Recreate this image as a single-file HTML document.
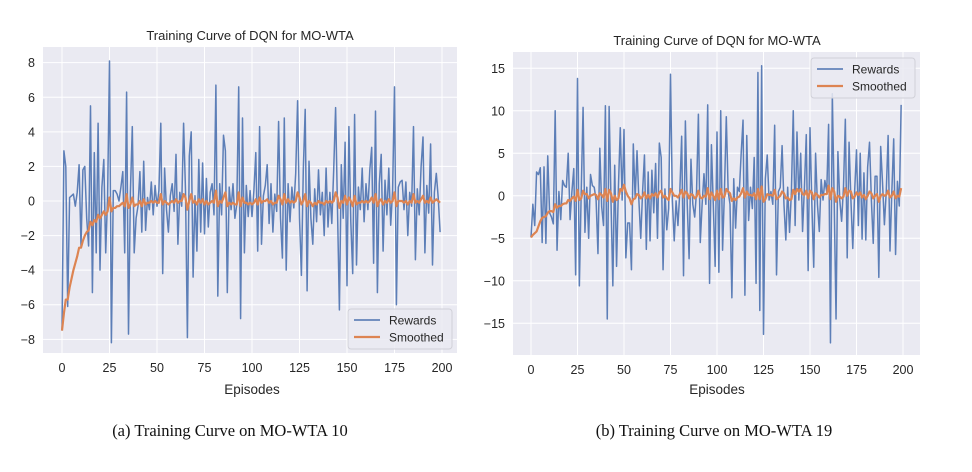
<!DOCTYPE html>
<html><head><meta charset="utf-8"><style>
body{margin:0;background:#fff;}
svg{display:block;font-family:"Liberation Sans",sans-serif;}
</style></head><body>
<svg id="svg" width="972" height="472"></svg>
<script>
const episodes = 200;
const xTicks = [0,25,50,75,100,125,150,175,200];
const yTicksA = [-8,-6,-4,-2,0,2,4,6,8];
const yTicksB = [-15,-10,-5,0,5,10,15];
const rewardsA = [-7.5,2.9,2.0,-6.1,0.2,0.3,0.4,-0.3,0.5,2.1,
-2.6,1.8,2.0,-1.0,-2.6,5.5,-5.3,2.8,-3.0,4.5,
-4.0,0.8,2.4,-3.0,0.3,8.1,-8.2,0.6,0.6,0.4,
0.0,0.8,1.7,-3.0,6.3,-7.7,0.5,4.3,-3.0,-1.0,
-0.3,1.7,-1.8,2.3,-1.7,0.2,-0.5,1.1,-0.8,0.9,
-0.3,0.6,4.5,-4.2,1.9,-0.5,-1.8,0.3,1.0,-0.6,
2.7,-2.5,0.5,-0.3,4.5,0.6,-7.9,2.6,4.0,-4.4,
0.3,-2.9,2.4,-1.8,2.2,-1.9,1.3,-1.5,0.5,1.0,
-0.8,6.7,-5.5,1.0,-0.8,3.8,2.9,-5.3,0.8,-0.5,
1.0,-1.0,-0.2,6.6,-6.8,4.8,-3.0,0.9,-0.9,0.6,
-0.9,0.6,2.8,-2.9,4.3,-2.5,0.3,0.9,2.1,-1.3,
1.0,-1.8,0.4,-0.6,4.6,-1.0,-3.3,4.8,-4.0,1.0,
-1.2,0.8,-0.4,1.6,5.8,-1.0,-4.3,1.8,5.3,-5.2,
2.3,-1.0,-2.5,0.7,-1.2,1.8,-0.8,0.5,-2.0,1.9,
-1.5,0.5,-1.3,1.8,5.4,-0.5,-6.3,2.1,-1.0,3.4,
-4.9,4.3,-1.2,-4.2,5.0,-3.7,0.8,-0.5,1.9,-1.2,
1.0,-0.5,1.8,3.1,-3.6,5.2,-5.3,1.0,2.7,-2.9,
1.2,-0.8,1.9,-1.4,0.6,6.6,-6.0,0.8,1.1,1.2,
-0.5,1.1,-2.0,0.5,-0.3,4.3,-3.4,0.7,-0.8,2.0,
3.7,-3.0,0.9,-0.7,3.3,-3.7,0.5,1.6,0.2,-1.8];
const smoothedA = [-7.5,-6.5,-5.7,-5.7,-5.0,-4.5,-4.0,-3.6,-3.2,-2.7,
-2.7,-2.3,-2.0,-1.8,-1.7,-1.2,-1.4,-1.1,-1.2,-0.8,
-1.0,-0.8,-0.6,-0.8,-0.6,0.2,-0.6,-0.4,-0.4,-0.3,
-0.3,-0.2,-0.1,-0.3,0.4,-0.4,-0.2,0.2,-0.3,-0.2,
-0.2,0.0,-0.3,0.1,-0.2,-0.1,-0.1,0.0,-0.1,0.0,
-0.1,-0.1,0.4,-0.2,0.0,-0.1,-0.2,-0.1,0.0,-0.1,
0.1,-0.1,0.0,0.0,0.4,0.2,-0.5,0.0,0.4,-0.1,
0.0,-0.2,0.1,-0.1,0.1,-0.2,0.0,-0.2,-0.1,0.0,
-0.1,0.6,-0.3,0.0,-0.1,0.2,0.5,-0.3,-0.1,-0.2,
-0.1,-0.2,-0.2,0.5,-0.3,0.2,-0.1,-0.1,-0.2,-0.1,
-0.2,-0.1,0.1,-0.2,0.2,-0.1,0.0,0.0,0.1,-0.1,
0.0,-0.2,-0.1,-0.1,0.3,0.1,-0.2,0.4,-0.1,0.1,
-0.1,0.0,-0.1,0.0,0.5,0.2,-0.2,0.0,0.4,-0.3,
0.0,-0.1,-0.3,-0.1,-0.2,0.0,-0.1,-0.1,-0.2,0.0,
-0.1,0.0,-0.1,0.0,0.5,0.2,-0.4,0.0,-0.1,0.3,
-0.2,0.2,0.0,-0.3,0.3,-0.2,-0.1,-0.1,0.0,-0.1,
0.0,-0.1,0.0,0.2,-0.1,0.4,-0.3,0.0,0.1,-0.2,
0.0,-0.1,0.1,-0.1,0.0,0.5,-0.3,0.0,0.0,0.0,
-0.1,0.0,-0.2,0.0,-0.1,0.4,-0.1,0.0,-0.1,0.1,
0.3,-0.1,0.0,-0.1,0.2,-0.1,0.0,0.1,0.0,-0.1];
const rewardsB = [-4.9,-1.0,-3.5,2.8,2.5,3.3,-5.5,3.4,-5.6,4.7,
-2.0,-2.5,-3.3,10.0,-6.4,0.5,-2.8,1.8,1.2,1.0,
5.0,-2.8,0.5,3.2,-9.3,13.8,-10.6,0.5,10.4,-4.3,
1.0,-5.0,2.5,1.2,1.0,-0.5,-6.8,5.6,-1.3,-3.5,
10.6,-14.5,10.5,-0.5,-10.6,3.6,-8.3,1.0,8.0,-0.5,
7.8,-7.3,-3.2,-3.2,-8.7,6.1,-0.3,5.3,-0.5,-5.0,
0.5,4.8,-6.3,2.8,-5.3,3.0,-2.0,3.8,-5.0,6.2,
4.5,-8.7,0.8,-4.0,-1.5,14.3,-0.5,-5.3,-0.6,-3.5,
0.5,7.0,-9.4,8.8,-1.0,-7.4,4.3,-1.0,-2.5,0.5,
9.6,-5.5,-1.0,2.6,-1.0,10.7,-10.3,6.0,-1.0,-8.3,
7.5,-9.0,10.0,-6.4,0.5,9.3,0.5,-1.0,-12.0,2.0,
-3.8,1.0,0.5,5.0,8.9,-11.7,7.1,-2.9,1.0,-1.5,
4.5,-10.3,14.5,-13.5,15.3,-16.3,2.0,4.8,-0.5,0.5,
-1.0,8.3,-9.3,0.5,1.0,5.9,-1.0,-5.2,1.0,-4.3,
0.5,10.0,-3.5,7.5,-0.5,5.0,-4.2,1.0,7.2,-8.8,
8.0,-1.0,-8.4,5.0,-1.0,-4.2,1.9,-0.5,1.8,0.5,
8.4,-17.3,12.0,-0.5,-14.5,5.2,-0.5,-3.0,1.0,9.0,
-7.3,6.3,-0.5,-6.2,0.5,5.4,-3.5,5.0,-5.1,2.7,
-5.2,3.4,6.3,-0.5,-5.6,2.3,2.3,-9.6,5.8,1.5,
-3.4,0.5,7.1,-6.5,0.5,6.7,-6.9,1.7,-1.2,10.7];
const smoothedB = [-4.9,-4.6,-4.4,-4.2,-3.6,-3.0,-2.6,-2.5,-2.4,-2.0,
-1.8,-1.8,-1.9,-1.0,-1.4,-1.2,-1.2,-1.0,-0.9,-0.9,
-0.5,-0.6,-0.3,-0.1,-0.6,0.7,-0.5,-0.3,0.6,0.2,
0.2,-0.3,0.0,0.1,0.2,0.1,-0.4,0.3,0.1,-0.2,
0.8,-0.6,0.7,0.3,-0.7,0.0,-0.5,-0.3,0.8,0.6,
1.3,0.5,0.0,-0.3,-1.0,-0.4,-0.3,0.2,0.1,-0.3,
-0.1,0.4,-0.3,0.1,-0.3,0.2,0.0,0.3,-0.2,0.4,
0.6,-0.2,0.0,-0.3,-0.5,0.8,0.4,0.0,0.0,-0.2,
0.2,0.7,-0.2,0.5,0.3,-0.3,0.2,0.1,-0.3,-0.1,
0.6,-0.2,-0.3,0.0,-0.1,0.9,-0.4,0.4,0.0,-0.5,
0.6,-0.4,0.8,-0.2,-0.1,0.8,0.5,0.3,-0.6,-0.3,
-0.5,-0.2,-0.1,0.3,0.9,-0.2,0.5,0.1,0.1,0.0,
0.3,-0.4,0.8,-0.4,1.1,-0.7,-0.4,0.2,0.1,0.1,
0.0,0.7,-0.4,-0.2,0.0,0.5,0.3,-0.3,-0.2,-0.5,
-0.4,0.7,0.2,0.8,0.5,0.8,0.2,0.1,0.6,-0.3,
0.6,0.4,-0.4,0.3,0.1,-0.2,0.1,0.1,0.2,0.2,
1.2,-0.4,0.9,0.5,-0.7,0.0,-0.1,-0.3,-0.1,0.9,
0.0,0.6,0.5,-0.3,-0.1,0.4,0.1,0.4,-0.2,0.1,
-0.4,0.0,0.5,0.3,-0.3,0.0,0.2,-0.7,0.0,0.2,
0.0,0.1,0.6,-0.2,0.0,0.5,-0.3,0.0,-0.1,0.9];

const NS = "http://www.w3.org/2000/svg";
const svg = document.getElementById('svg');
function mk(tag, attrs, parent){const e=document.createElementNS(NS,tag);for(const k in attrs)e.setAttribute(k,attrs[k]);(parent||svg).appendChild(e);return e;}

function chart(o){
  const g = mk('g',{});
  
  
  const xs = v => o.x0 + (v-0)/(200-0)*(o.x200-o.x0);
  const ys = v => o.yZero - v*o.pxPerUnit;
  const bg = mk('rect',{x:o.bx0,y:o.by0,width:o.bx1-o.bx0,height:o.by1-o.by0,fill:'#eaeaf2'},g);
  
  
  o.yTicks.forEach(t=>{
    const y=ys(t);
    const l=mk('line',{x1:o.bx0,x2:o.bx1,y1:y,y2:y,stroke:'#fff','stroke-width':1},g);
    
    
    const tx=mk('text',{x:o.bx0-8,y:y+4.5,'text-anchor':'end','font-size':12.5,fill:'#262626'},g);
    tx.textContent=String(t).replace('-','\u2212');
    
    
  });
  xTicks.forEach(t=>{
    const x=xs(t);
    const l=mk('line',{x1:x,x2:x,y1:o.by0,y2:o.by1,stroke:'#fff','stroke-width':1},g);
    
    
    const tx=mk('text',{x:x,y:o.by1+19,'text-anchor':'middle','font-size':12.5,fill:'#262626'},g);
    tx.textContent=t;
    
    
  });
  const pr=o.rewards.map((v,i)=>xs(i).toFixed(2)+','+ys(v).toFixed(2)).join(' ');
  const lr=mk('polyline',{points:pr,fill:'none',stroke:'#4c72b0','stroke-width':1.5,'stroke-opacity':0.9,'stroke-linejoin':'round'},g);
  
  
  const ps=o.smoothed.map((v,i)=>xs(i).toFixed(2)+','+ys(v).toFixed(2)).join(' ');
  const ls=mk('polyline',{points:ps,fill:'none',stroke:'#dd8452','stroke-width':2.2,'stroke-linejoin':'round'},g);
  
  
  const ti=mk('text',{x:o.tx,y:o.ty,'text-anchor':'middle','font-size':13,fill:'#262626'},g);
  ti.textContent='Training Curve of DQN for MO-WTA';
  
  
  const xl=mk('text',{x:(o.x0+o.x200)/2,y:394,'text-anchor':'middle','font-size':13.5,fill:'#262626'},g);
  xl.textContent='Episodes';
  
  
  const lg=mk('g',{},g);
  
  
  mk('rect',{x:o.lx,y:o.ly,width:104,height:40,rx:3,fill:'#eaeaf2','fill-opacity':0.85,stroke:'#d0d0d8'},lg);
  mk('line',{x1:o.lx+6,x2:o.lx+32,y1:o.ly+11,y2:o.ly+11,stroke:'#4c72b0','stroke-width':1.5},lg);
  mk('line',{x1:o.lx+6,x2:o.lx+32,y1:o.ly+28,y2:o.ly+28,stroke:'#dd8452','stroke-width':2.2},lg);
  const t1=mk('text',{x:o.lx+41,y:o.ly+15.5,'font-size':12,fill:'#262626'},lg);t1.textContent='Rewards';
  
  
  const t2=mk('text',{x:o.lx+41,y:o.ly+32.5,'font-size':12,fill:'#262626'},lg);t2.textContent='Smoothed';
  
  
}
chart({name:'chart-mo-wta-10',bx0:43,bx1:457,by0:47,by1:353,x0:62,x200:442,yZero:201,pxPerUnit:17.29,yTicks:yTicksA,rewards:rewardsA,smoothed:smoothedA,tx:250,ty:40,lx:348,ly:309});
chart({name:'chart-mo-wta-19',bx0:513,bx1:920,by0:52,by1:355,x0:531,x200:903,yZero:195.8,pxPerUnit:8.5,yTicks:yTicksB,rewards:rewardsB,smoothed:smoothedB,tx:717,ty:45,lx:811,ly:58});
const c1=mk('text',{x:230,y:436,'text-anchor':'middle','font-size':16.5,'font-family':'"Liberation Serif",serif',fill:'#111'});
c1.textContent='(a)  Training Curve on MO-WTA 10';


const c2=mk('text',{x:714,y:436,'text-anchor':'middle','font-size':16.5,'font-family':'"Liberation Serif",serif',fill:'#111'});
c2.textContent='(b)  Training Curve on MO-WTA 19';


</script>
</body></html>
